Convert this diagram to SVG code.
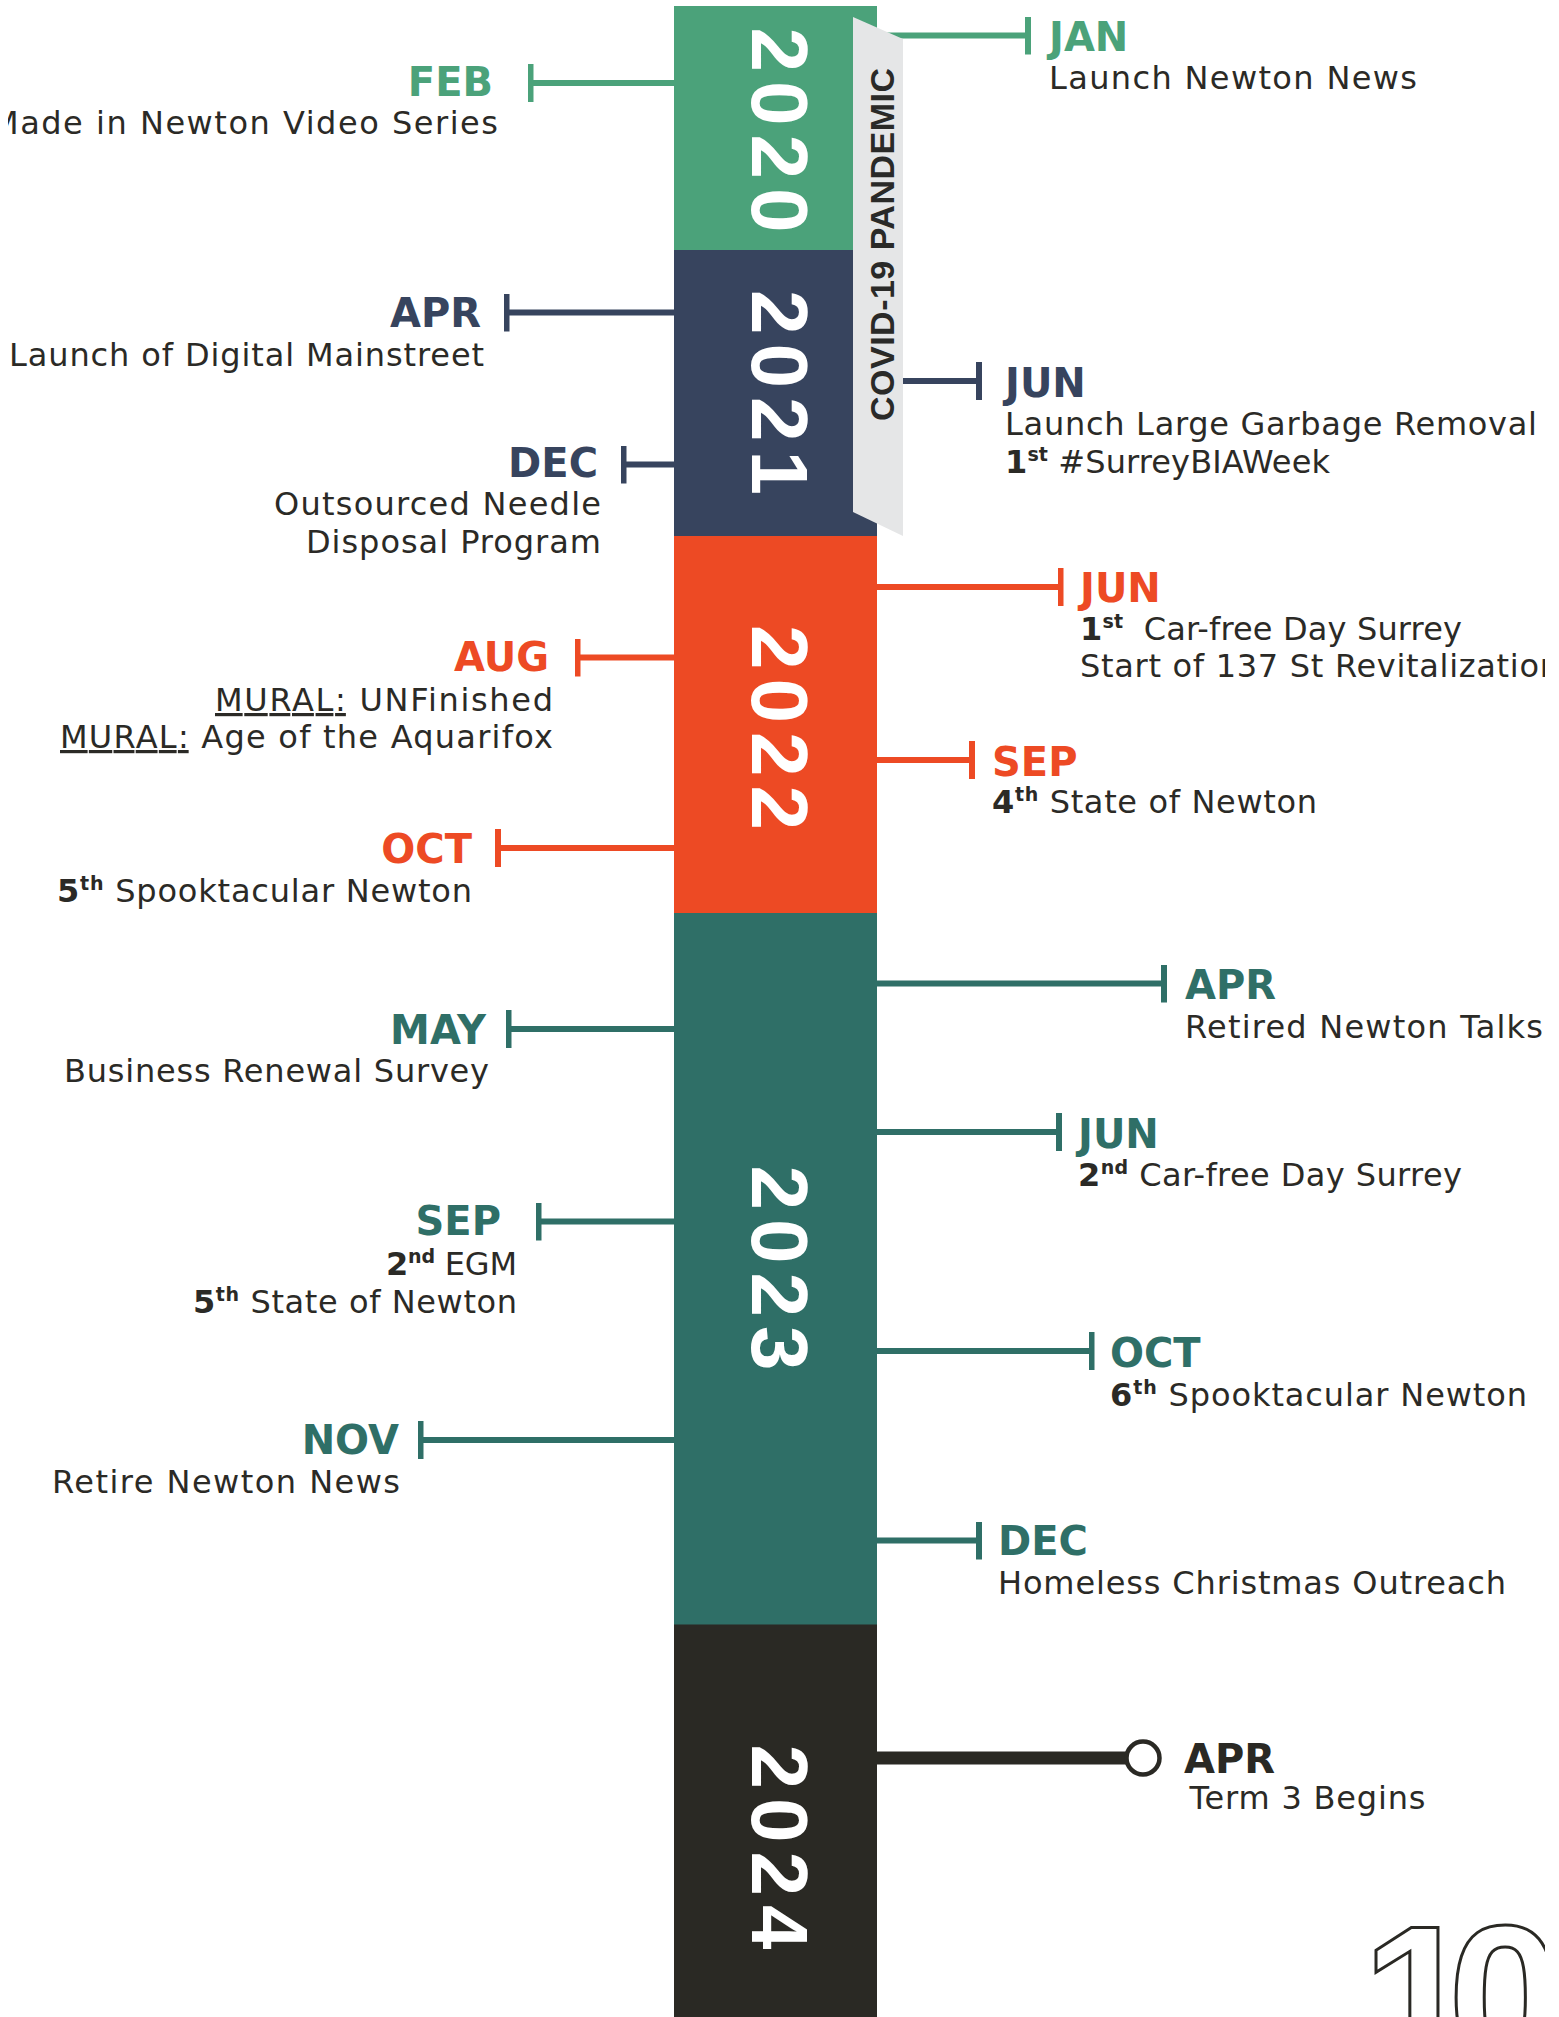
<svg xmlns="http://www.w3.org/2000/svg" width="1559" height="2017" viewBox="0 0 1559 2017">
<style>
.desc{font-family:"DejaVu Sans","Noto Sans",sans-serif;font-size:32px;fill:#2b2a26;}
.mon{font-family:"DejaVu Sans","Noto Sans",sans-serif;font-weight:700;font-size:40px;}
.yr{font-family:"Liberation Sans",Arial,sans-serif;font-weight:700;font-size:80px;fill:#ffffff;letter-spacing:9px;text-anchor:middle;}
.b{font-weight:700;}
.sup{font-size:19px;font-weight:700;}
.end{text-anchor:end;}
.g{fill:#4ba27a;} .n{fill:#37445e;} .o{fill:#ed4a24;} .t{fill:#2f6f67;} .k{fill:#2a2924;}
.ln{stroke-width:6;fill:none;}
.lg{stroke:#4ba27a;marker-end:url(#tk-g);} .lnv{stroke:#37445e;marker-end:url(#tk-n);} .lo{stroke:#ed4a24;marker-end:url(#tk-o);} .lt{stroke:#2f6f67;marker-end:url(#tk-t);}
</style>
<defs>
<clipPath id="page"><rect x="8" y="0" width="1537" height="2017"/></clipPath>
<marker id="tk-g" markerUnits="userSpaceOnUse" viewBox="0 0 6 38" markerWidth="6" markerHeight="38" refX="3" refY="19" orient="auto"><rect width="6" height="38" fill="#4ba27a"/></marker>
<marker id="tk-n" markerUnits="userSpaceOnUse" viewBox="0 0 6 38" markerWidth="6" markerHeight="38" refX="3" refY="19" orient="auto"><rect width="6" height="38" fill="#37445e"/></marker>
<marker id="tk-o" markerUnits="userSpaceOnUse" viewBox="0 0 6 38" markerWidth="6" markerHeight="38" refX="3" refY="19" orient="auto"><rect width="6" height="38" fill="#ed4a24"/></marker>
<marker id="tk-t" markerUnits="userSpaceOnUse" viewBox="0 0 6 38" markerWidth="6" markerHeight="38" refX="3" refY="19" orient="auto"><rect width="6" height="38" fill="#2f6f67"/></marker>
<marker id="dot-k" markerUnits="userSpaceOnUse" viewBox="-22 -22 44 44" markerWidth="44" markerHeight="44" refX="0" refY="0" orient="auto"><circle r="16.5" fill="#ffffff" stroke="#2a2924" stroke-width="4.5"/></marker>
</defs>
<rect width="1559" height="2017" fill="#ffffff"/>
<g clip-path="url(#page)">
<g id="timeline-bar">
<rect x="674" y="6" width="203" height="244" fill="#4ba27a"/>
<rect x="674" y="250" width="203" height="286" fill="#37445e"/>
<rect x="674" y="536" width="203" height="377" fill="#ed4a24"/>
<rect x="674" y="913" width="203" height="712" fill="#2f6f67"/>
<rect x="674" y="1624.5" width="203" height="393" fill="#2a2924"/>
</g>
<g id="connectors">
<line class="ln lg" x1="674" y1="83" x2="530.5" y2="83"/>
<line class="ln lnv" x1="674" y1="312.5" x2="506.5" y2="312.5"/>
<line class="ln lnv" x1="674" y1="464.5" x2="623.5" y2="464.5"/>
<line class="ln lo" x1="674" y1="657.5" x2="577.5" y2="657.5"/>
<line class="ln lo" x1="674" y1="848" x2="498" y2="848"/>
<line class="ln lt" x1="674" y1="1029" x2="508.5" y2="1029"/>
<line class="ln lt" x1="674" y1="1221.5" x2="538.5" y2="1221.5"/>
<line class="ln lt" x1="674" y1="1440" x2="420.5" y2="1440"/>
<line class="ln lg" x1="877" y1="35.5" x2="1028" y2="35.5"/>
<line class="ln lnv" x1="877" y1="381" x2="979" y2="381"/>
<line class="ln lo" x1="877" y1="587" x2="1060.5" y2="587"/>
<line class="ln lo" x1="877" y1="760" x2="972" y2="760"/>
<line class="ln lt" x1="877" y1="983.5" x2="1164" y2="983.5"/>
<line class="ln lt" x1="877" y1="1132" x2="1059" y2="1132"/>
<line class="ln lt" x1="877" y1="1351" x2="1091.5" y2="1351"/>
<line class="ln lt" x1="877" y1="1540.5" x2="979" y2="1540.5"/>
<line x1="877" y1="1758" x2="1143" y2="1758" stroke="#2a2924" stroke-width="13" marker-end="url(#dot-k)"/>
</g>
<g id="covid-band">
<polygon points="853,17 903,39 903,536 853,512" fill="#e5e6e7"/>
<text transform="translate(893.5,244.5) rotate(-90)" text-anchor="middle" textLength="353" font-family="Liberation Sans, Arial, sans-serif" font-weight="700" font-size="34" fill="#2a2a28">COVID-19 PANDEMIC</text>
</g>
<g id="years">
<text class="yr" transform="translate(751.5,134.5) rotate(90)">2020</text>
<text class="yr" transform="translate(751.5,397) rotate(90)">2021</text>
<text class="yr" transform="translate(751.5,732) rotate(90)">2022</text>
<text class="yr" transform="translate(751.5,1272.5) rotate(90)">2023</text>
<text class="yr" transform="translate(751.5,1851.5) rotate(90)">2024</text>
</g>
<g id="ev-2020-feb">
<text class="mon g end" x="493" y="95.7">FEB</text>
<text class="desc end" x="498" y="134" textLength="507">Made in Newton Video Series</text>
</g>
<g id="ev-2020-jan">
<text class="mon g" x="1049" y="51">JAN</text>
<text class="desc" x="1049" y="88.6" textLength="368">Launch Newton News</text>
</g>
<g id="ev-2021-apr">
<text class="mon n end" x="481" y="327">APR</text>
<text class="desc end" x="484" y="366" textLength="475">Launch of Digital Mainstreet</text>
</g>
<g id="ev-2021-dec">
<text class="mon n end" x="598" y="477">DEC</text>
<text class="desc end" x="601" y="515" textLength="327">Outsourced Needle</text>
<text class="desc end" x="601" y="553" textLength="295">Disposal Program</text>
</g>
<g id="ev-2021-jun">
<text class="mon n" x="1005" y="397">JUN</text>
<text class="desc" x="1005" y="435" textLength="532">Launch Large Garbage Removal</text>
<text class="desc" x="1005" y="473" textLength="325"><tspan class="b">1</tspan><tspan class="sup" dy="-12">st</tspan><tspan dy="12"> #SurreyBIAWeek</tspan></text>
</g>
<g id="ev-2022-aug">
<text class="mon o end" x="549" y="671">AUG</text>
<text class="desc end" x="553" y="711" textLength="338"><tspan text-decoration="underline">MURAL:</tspan> UNFinished</text>
<text class="desc end" x="553" y="748" textLength="493"><tspan text-decoration="underline">MURAL:</tspan> Age of the Aquarifox</text>
</g>
<g id="ev-2022-oct">
<text class="mon o end" x="472" y="863">OCT</text>
<text class="desc end" x="472" y="902" textLength="415"><tspan class="b">5</tspan><tspan class="sup" dy="-12">th</tspan><tspan dy="12"> Spooktacular Newton</tspan></text>
</g>
<g id="ev-2022-jun">
<text class="mon o" x="1080" y="601.6">JUN</text>
<text class="desc" x="1080" y="640" textLength="382" xml:space="preserve"><tspan class="b">1</tspan><tspan class="sup" dy="-12">st</tspan><tspan dy="12">  Car-free Day Surrey</tspan></text>
<text class="desc" x="1080" y="677" textLength="480">Start of 137 St Revitalization</text>
</g>
<g id="ev-2022-sep">
<text class="mon o" x="992" y="776">SEP</text>
<text class="desc" x="992" y="813" textLength="325"><tspan class="b">4</tspan><tspan class="sup" dy="-12">th</tspan><tspan dy="12"> State of Newton</tspan></text>
</g>
<g id="ev-2023-may">
<text class="mon t end" x="486" y="1044">MAY</text>
<text class="desc end" x="489" y="1082" textLength="425">Business Renewal Survey</text>
</g>
<g id="ev-2023-sep">
<text class="mon t end" x="501" y="1235">SEP</text>
<text class="desc end" x="517" y="1275" textLength="131"><tspan class="b">2</tspan><tspan class="sup" dy="-12">nd</tspan><tspan dy="12"> EGM</tspan></text>
<text class="desc end" x="517" y="1313" textLength="324"><tspan class="b">5</tspan><tspan class="sup" dy="-12">th</tspan><tspan dy="12"> State of Newton</tspan></text>
</g>
<g id="ev-2023-nov">
<text class="mon t end" x="399" y="1454">NOV</text>
<text class="desc end" x="400" y="1493" textLength="348">Retire Newton News</text>
</g>
<g id="ev-2023-apr">
<text class="mon t" x="1185" y="999">APR</text>
<text class="desc" x="1185" y="1037.5" textLength="358">Retired Newton Talks</text>
</g>
<g id="ev-2023-jun">
<text class="mon t" x="1078" y="1148">JUN</text>
<text class="desc" x="1078" y="1186" textLength="384"><tspan class="b">2</tspan><tspan class="sup" dy="-12">nd</tspan><tspan dy="12"> Car-free Day Surrey</tspan></text>
</g>
<g id="ev-2023-oct">
<text class="mon t" x="1110" y="1366.5">OCT</text>
<text class="desc" x="1110" y="1406" textLength="417"><tspan class="b">6</tspan><tspan class="sup" dy="-12">th</tspan><tspan dy="12"> Spooktacular Newton</tspan></text>
</g>
<g id="ev-2023-dec">
<text class="mon t" x="998" y="1555">DEC</text>
<text class="desc" x="998" y="1594" textLength="508">Homeless Christmas Outreach</text>
</g>
<g id="ev-2024-apr">
<text class="mon k" x="1184" y="1772.6">APR</text>
<text class="desc" x="1189.5" y="1809" textLength="236">Term 3 Begins</text>
</g>
<g id="page-number">
<text x="1362" y="2068" font-family="Liberation Sans, Arial, sans-serif" font-weight="700" font-size="205" letter-spacing="-28" fill="#ffffff" stroke="#2a2924" stroke-width="3">10</text>
</g>
</g>
</svg>
